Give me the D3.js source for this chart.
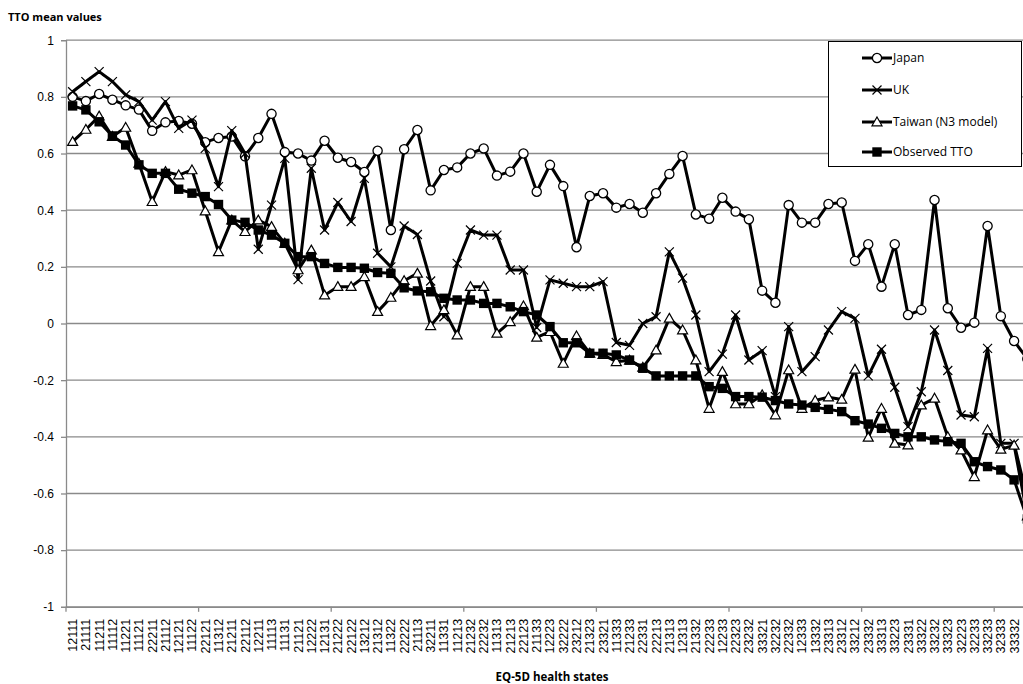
<!DOCTYPE html>
<html>
<head>
<meta charset="utf-8">
<script src="https://cdn.jsdelivr.net/npm/d3@7"></script>
<style>
  body { margin: 0; background: #fff; }
  svg { display: block; font-family: 'Open Sans', sans-serif; }
</style>
</head>
<body>
<div id="chart"></div>
<script>
// EQ-5D health states on the x axis (last one falls just outside the picture)
const states = ['12111', '21111', '11211', '11112', '11221', '11121', '22211', '21112', '12121', '11122',
  '22121', '11312', '21211', '22112', '12211', '11113', '11131', '21121', '12222', '12131',
  '21222', '22122', '13212', '21312', '11322', '22222', '21113', '32211', '11331', '11213',
  '21232', '22232', '11313', '21213', '22123', '21133', '12223', '32222', '23212', '21323',
  '23321', '11333', '21233', '22331', '22213', '21313', '12313', '21332', '22233', '12233',
  '22323', '23232', '33321', '32232', '22332', '12333', '13332', '23313', '23312', '33212',
  '23332', '33313', '33223', '23331', '33322', '33232', '33323', '32223', '32233', '33233',
  '32333', '33332', '33333']

const japan = [0.80, 0.785, 0.81, 0.79, 0.77, 0.755, 0.68, 0.71, 0.715, 0.705,
  0.64, 0.655, 0.66, 0.59, 0.655, 0.74, 0.605, 0.60, 0.575, 0.645,
  0.585, 0.57, 0.535, 0.61, 0.33, 0.615, 0.683, 0.47, 0.542, 0.551,
  0.60, 0.618, 0.522, 0.536, 0.60, 0.465, 0.56, 0.485, 0.269, 0.45,
  0.46, 0.409, 0.422, 0.391, 0.46, 0.528, 0.591, 0.385, 0.37, 0.444,
  0.395, 0.368, 0.116, 0.073, 0.418, 0.356, 0.356, 0.422, 0.427, 0.221,
  0.28, 0.13, 0.28, 0.03, 0.048, 0.436, 0.054, -0.015, 0.003, 0.344,
  0.026, -0.062, -0.125]

const uk = [0.818, 0.854, 0.889, 0.854, 0.807, 0.783, 0.718, 0.783, 0.689, 0.718,
  0.618, 0.483, 0.681, 0.60, 0.262, 0.418, 0.583, 0.155, 0.548, 0.33,
  0.427, 0.36, 0.512, 0.248, 0.20, 0.344, 0.314, 0.15, 0.024, 0.212,
  0.33, 0.312, 0.312, 0.189, 0.189, -0.014, 0.154, 0.142, 0.13, 0.13,
  0.148, -0.067, -0.077, 0.0, 0.024, 0.253, 0.16, 0.03, -0.17, -0.108,
  0.03, -0.129, -0.096, -0.258, -0.011, -0.17, -0.117, -0.023, 0.042, 0.018,
  -0.185, -0.091, -0.225, -0.364, -0.241, -0.023, -0.166, -0.323, -0.329, -0.088,
  -0.423, -0.423, -0.62]

const taiwan = [0.642, 0.685, 0.732, 0.66, 0.692, 0.565, 0.43, 0.536, 0.524, 0.542,
  0.397, 0.253, 0.365, 0.324, 0.365, 0.342, 0.283, 0.189, 0.259, 0.10,
  0.13, 0.13, 0.165, 0.042, 0.092, 0.151, 0.177, -0.008, 0.048, -0.041,
  0.13, 0.13, -0.035, 0.006, 0.062, -0.049, -0.029, -0.141, -0.044, -0.105,
  -0.11, -0.135, -0.13, -0.155, -0.094, 0.018, -0.023, -0.129, -0.30, -0.17,
  -0.284, -0.284, -0.252, -0.323, -0.164, -0.30, -0.272, -0.26, -0.268, -0.162,
  -0.402, -0.30, -0.423, -0.429, -0.288, -0.264, -0.40, -0.447, -0.541, -0.376,
  -0.444, -0.43, -0.68]

const observed = [0.768, 0.754, 0.712, 0.662, 0.63, 0.56, 0.53, 0.53, 0.474, 0.46,
  0.448, 0.42, 0.365, 0.357, 0.33, 0.312, 0.283, 0.236, 0.236, 0.212,
  0.198, 0.198, 0.195, 0.18, 0.177, 0.126, 0.115, 0.112, 0.089, 0.083,
  0.083, 0.071, 0.071, 0.059, 0.042, 0.03, -0.011, -0.068, -0.068, -0.105,
  -0.105, -0.111, -0.129, -0.158, -0.185, -0.185, -0.185, -0.185, -0.223, -0.229,
  -0.258, -0.258, -0.26, -0.272, -0.284, -0.288, -0.296, -0.303, -0.311, -0.343,
  -0.355, -0.37, -0.388, -0.40, -0.40, -0.411, -0.417, -0.423, -0.488, -0.505,
  -0.517, -0.552, -0.69]

const yTicks = [1, 0.8, 0.6, 0.4, 0.2, 0, -0.2, -0.4, -0.6, -0.8, -1]

const series = [
  { name: 'Japan', values: japan, marker: 'circle' },
  { name: 'UK', values: uk, marker: 'cross' },
  { name: 'Taiwan (N3 model)', values: taiwan, marker: 'triangle' },
  { name: 'Observed TTO', values: observed, marker: 'square' }
]

const width = 1023
const height = 684
const left = 66
const bandW = 13.26
const grey = '#8a8a8a'

const svg = d3.select('#chart')
  .append('svg')
  .attr('width', width)
  .attr('height', height)

const x = d3.scaleBand()
  .domain(states)
  .range([left, left + bandW * states.length])
const y = d3.scaleLinear()
  .domain([-1, 1])
  .range([606.8, 40.2])

// horizontal gridlines
svg.append('g')
  .selectAll('line')
  .data(yTicks)
  .enter()
  .append('line')
  .attr('x1', left)
  .attr('x2', width)
  .attr('y1', d => y(d))
  .attr('y2', d => y(d))
  .attr('stroke', grey)
  .attr('stroke-width', 1.3)

// Y axis
const yAxis = svg.append('g')
  .attr('transform', 'translate(' + left + ',0)')
  .call(d3.axisLeft(y).tickValues(yTicks).tickSize(5).tickPadding(7)
    .tickFormat(d => String(+d.toFixed(1))))
yAxis.selectAll('path, line').attr('stroke', grey).attr('stroke-width', 1.3)
yAxis.selectAll('text').attr('font-size', 12).attr('fill', '#000')

// X axis: rotated state labels, only for the states inside the picture
const shown = states.filter(d => x(d) + bandW <= width)
const xAxis = svg.append('g')
  .attr('transform', 'translate(0,' + y(-1) + ')')
  .call(d3.axisBottom(x).tickValues(shown).tickSize(0).tickSizeOuter(0))
xAxis.select('path').attr('stroke', grey).attr('stroke-width', 1.3)
xAxis.selectAll('text')
  .attr('transform', 'rotate(-90)')
  .attr('x', -12)
  .attr('y', 0)
  .attr('dy', '0.36em')
  .attr('text-anchor', 'end')
  .attr('font-size', 12.5)
  .attr('fill', '#000')

// tick marks every 10 states
svg.append('g')
  .selectAll('line')
  .data(d3.range(0, states.length, 10))
  .enter()
  .append('line')
  .attr('x1', i => x(states[i]))
  .attr('x2', i => x(states[i]))
  .attr('y1', y(-1))
  .attr('y2', y(-1) + 5)
  .attr('stroke', grey)
  .attr('stroke-width', 1.3)

/** Draws one marker of the given kind into a selection of groups. */
function drawMarker (g, kind) {
  if (kind === 'circle') {
    g.append('circle').attr('r', 4.6).attr('fill', '#fff').attr('stroke', '#000').attr('stroke-width', 1.3)
  } else if (kind === 'cross') {
    g.append('path').attr('d', 'M-4.5,-4.5L4.5,4.5M-4.5,4.5L4.5,-4.5')
      .attr('stroke', '#000').attr('stroke-width', 1.2)
  } else if (kind === 'triangle') {
    g.append('path').attr('d', 'M0,-5L5,3.8L-5,3.8Z')
      .attr('fill', '#fff').attr('stroke', '#000').attr('stroke-width', 1.2)
  } else {
    g.append('rect').attr('x', -4.7).attr('y', -4.7).attr('width', 9.4).attr('height', 9.4).attr('fill', '#000')
  }
}

const line = d3.line()
  .x((d, i) => x(states[i]) + x.bandwidth() / 2)
  .y(d => y(d))

series.forEach(function (s) {
  const g = svg.append('g')
  g.append('path')
    .datum(s.values)
    .attr('d', line)
    .attr('fill', 'none')
    .attr('stroke', '#000')
    .attr('stroke-width', 3)
    .attr('stroke-linejoin', 'round')
  const m = g.selectAll('g')
    .data(s.values)
    .enter()
    .append('g')
    .attr('transform', (d, i) => 'translate(' + (x(states[i]) + x.bandwidth() / 2) + ',' + y(d) + ')')
  drawMarker(m, s.marker)
})

// titles
svg.append('text')
  .attr('x', 8)
  .attr('y', 21)
  .attr('font-size', 11)
  .attr('font-weight', 'bold')
  .text('TTO mean values')
svg.append('text')
  .attr('x', 552)
  .attr('y', 681)
  .attr('text-anchor', 'middle')
  .attr('font-size', 11.5)
  .attr('font-weight', 'bold')
  .text('EQ-5D health states')

// legend
const legend = svg.append('g')
legend.append('rect')
  .attr('x', 828.5)
  .attr('y', 41.5)
  .attr('width', 193)
  .attr('height', 125)
  .attr('fill', '#fff')
  .attr('stroke', '#000')
  .attr('stroke-width', 1)
const legendY = [58, 90, 122, 152]
series.forEach(function (s, i) {
  const row = legend.append('g').attr('transform', 'translate(0,' + legendY[i] + ')')
  row.append('line')
    .attr('x1', 862).attr('x2', 892)
    .attr('stroke', '#000').attr('stroke-width', 3)
  drawMarker(row.append('g').attr('transform', 'translate(877,0)'), s.marker)
  row.append('text')
    .attr('x', 893)
    .attr('dy', '0.35em')
    .attr('font-size', 12)
    .text(s.name)
})
</script>
</body>
</html>
